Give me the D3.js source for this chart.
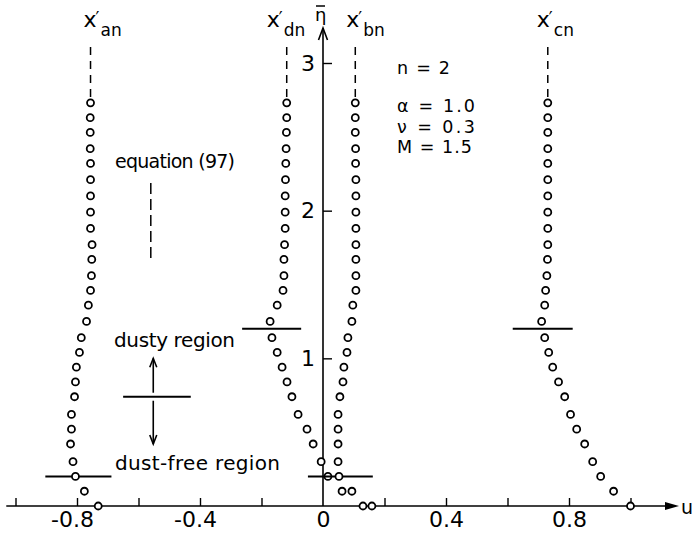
<!DOCTYPE html>
<html>
<head>
<meta charset="utf-8">
<script src="https://cdn.jsdelivr.net/npm/d3@7"></script>
<style>
  body { margin: 0; background: #fff; }
  svg { display: block; }
  text { font-family: "DejaVu Sans", sans-serif; fill: #000; }
</style>
</head>
<body>
<svg id="chart" width="694" height="535"></svg>
<script>
// Boundary-layer velocity profiles u(η̄) for the four components, n = 2.
const eta = [0, 0.10, 0.20, 0.30, 0.42, 0.52, 0.62, 0.74, 0.84, 0.94, 1.04, 1.14, 1.25, 1.36,
             1.46, 1.56, 1.67, 1.77, 1.88, 1.99, 2.10, 2.21, 2.32, 2.42, 2.53, 2.63, 2.73];
const uAn = [-0.731, -0.776, -0.805, -0.813, -0.821, -0.818, -0.818, -0.808, -0.805, -0.802,
             -0.792, -0.786, -0.769, -0.763, -0.756, -0.753, -0.752, -0.751, -0.756, -0.756,
             -0.756, -0.756, -0.756, -0.757, -0.757, -0.757, -0.756];
const uDn = [0.130, 0.062, 0.016, -0.006, -0.032, -0.052, -0.081, -0.101, -0.117, -0.133,
             -0.149, -0.166, -0.172, -0.149, -0.130, -0.127, -0.127, -0.125, -0.123, -0.123,
             -0.123, -0.122, -0.121, -0.120, -0.119, -0.118, -0.118];
const uBn = [0.159, 0.094, 0.052, 0.049, 0.049, 0.049, 0.049, 0.055, 0.065, 0.068,
             0.078, 0.081, 0.094, 0.097, 0.107, 0.107, 0.107, 0.107, 0.107, 0.107,
             0.107, 0.107, 0.106, 0.106, 0.105, 0.105, 0.105];
const uCn = [1.000, 0.945, 0.903, 0.877, 0.851, 0.825, 0.805, 0.786, 0.766, 0.747,
             0.734, 0.721, 0.711, 0.721, 0.724, 0.728, 0.730, 0.731, 0.731, 0.731,
             0.731, 0.731, 0.731, 0.731, 0.731, 0.731, 0.731];

// Series names (subscripts) and the η̄ / u-extent of each dust-boundary marker
const seriesSubs = ["an", "dn", "bn", "cn"];
const boundaryEta = [0.20, 1.20, 0.20, 1.20];
const boundaryU0 = [-0.903, -0.263, -0.049, 0.617];
const boundaryU1 = [-0.688, -0.071, 0.162, 0.812];

// Axis ticks
const xMinorTicks = [-1.0, -0.8, -0.6, -0.4, -0.2, 0.2, 0.4, 0.6, 0.8, 1.0];
const xLabelTicks = [-0.8, -0.4, 0, 0.4, 0.8];
const xTickLabels = ["-0.8", "-0.4", "0", "0.4", "0.8"];
const yTicks = [1, 2, 3];
const yTickLabels = ["1", "2", "3"];

// Parameter block
const params = ["n = 2", "α = 1.0", "ν = 0.3", "M = 1.5"];

const series = [uAn, uDn, uBn, uCn];

const svg = d3.select("#chart");
const x = d3.scaleLinear().domain([-0.8, 0.8]).range([77, 569]);
const y = d3.scaleLinear().domain([0, 3]).range([506, 63]);
const x0 = x(0), y0 = y(0);

// ---- axes ----
const gx = svg.append("g").attr("transform", `translate(0,${y0})`)
  .call(d3.axisBottom(x).tickValues(xMinorTicks).tickSize(-8).tickFormat(""));
gx.select(".domain").remove();
gx.selectAll("line").attr("stroke", "#000").attr("stroke-width", 1.4);

const gxl = svg.append("g").attr("transform", `translate(0,${y0})`)
  .call(d3.axisBottom(x).tickValues(xLabelTicks).tickSize(0).tickPadding(5)
    .tickFormat((d, i) => xTickLabels[i]));
gxl.select(".domain").remove();
gxl.attr("font-family", null).attr("font-size", null);
gxl.selectAll("text").attr("font-size", 22).attr("fill", "#000")
  .attr("dx", d => d < 0 ? -5 : 0);

const gy = svg.append("g").attr("transform", `translate(${x0},0)`)
  .call(d3.axisLeft(y).tickValues(yTicks).tickSize(-9).tickPadding(8)
    .tickFormat((d, i) => yTickLabels[i]));
gy.select(".domain").remove();
gy.attr("font-family", null).attr("font-size", null);
gy.selectAll("line").attr("stroke", "#000").attr("stroke-width", 1.4);
gy.selectAll("text").attr("font-size", 22).attr("fill", "#000");

// axis lines with arrows
svg.append("line").attr("x1", x(-1.03)).attr("x2", 668).attr("y1", y0).attr("y2", y0)
  .attr("stroke", "#000").attr("stroke-width", 1.6);
svg.append("path").attr("d", `M679,${y0} L665,${y0 - 4} L665,${y0 + 4} Z`).attr("fill", "#000");
svg.append("text").attr("x", 681).attr("y", y0 + 8).attr("font-size", 19).text("u");

svg.append("line").attr("x1", x0).attr("x2", x0).attr("y1", y0).attr("y2", 28)
  .attr("stroke", "#000").attr("stroke-width", 1.6);
svg.append("path").attr("d", `M${x0 - 4.5},40 L${x0},28 L${x0 + 4.5},40`)
  .attr("fill", "none").attr("stroke", "#000").attr("stroke-width", 1.6);
svg.append("text").attr("x", x0 - 8).attr("y", 21).attr("font-size", 18).text("η");
svg.append("line").attr("x1", x0 - 7).attr("x2", x0 + 2).attr("y1", 6).attr("y2", 6)
  .attr("stroke", "#000").attr("stroke-width", 1.5);

// ---- profiles ----
const labelShift = [-7, -20, -9, -11];
series.forEach((u, k) => {
  const g = svg.append("g");
  const topU = u[u.length - 1];
  // dashed continuation above the last computed point
  g.append("line").attr("x1", x(topU)).attr("x2", x(topU))
    .attr("y1", 47).attr("y2", 97)
    .attr("stroke", "#000").attr("stroke-width", 1.5).attr("stroke-dasharray", "8,6");
  // dust-boundary marker
  g.append("line").attr("x1", x(boundaryU0[k])).attr("x2", x(boundaryU1[k]))
    .attr("y1", y(boundaryEta[k])).attr("y2", y(boundaryEta[k]))
    .attr("stroke", "#000").attr("stroke-width", 2);
  g.selectAll("circle").data(eta).join("circle")
    .attr("cx", (d, i) => x(u[i]))
    .attr("cy", d => y(d))
    .attr("r", 3.5)
    .attr("fill", "#fff").attr("stroke", "#000").attr("stroke-width", 1.8);
  // label x′ with subscript
  const lx = x(topU) + labelShift[k];
  const t = g.append("text").attr("x", lx).attr("y", 27).attr("font-size", 22);
  t.append("tspan").text("x");
  t.append("tspan").attr("font-size", 17).attr("dy", -3).attr("dx", -1).text("′");
  t.append("tspan").attr("x", lx + 17).attr("y", 36).attr("font-size", 17).text(seriesSubs[k]);
});

// ---- annotations ----
svg.append("text").attr("x", 115).attr("y", 168).attr("font-size", 19)
  .attr("textLength", 120).attr("lengthAdjust", "spacing").text("equation (97)");
svg.append("line").attr("x1", x(-0.56)).attr("x2", x(-0.56)).attr("y1", 183).attr("y2", 258)
  .attr("stroke", "#000").attr("stroke-width", 1.5).attr("stroke-dasharray", "11,5");

svg.append("text").attr("x", 114).attr("y", 347).attr("font-size", 20)
  .attr("textLength", 121).attr("lengthAdjust", "spacing").text("dusty region");
svg.append("text").attr("x", 115).attr("y", 470).attr("font-size", 20)
  .attr("textLength", 165).attr("lengthAdjust", "spacing").text("dust-free region");

const ax = x(-0.552);
svg.append("line").attr("x1", x(-0.65)).attr("x2", x(-0.43)).attr("y1", y(0.74)).attr("y2", y(0.74))
  .attr("stroke", "#000").attr("stroke-width", 2);
svg.append("line").attr("x1", ax).attr("x2", ax).attr("y1", y(0.74) - 4).attr("y2", y(1.0))
  .attr("stroke", "#000").attr("stroke-width", 1.6);
svg.append("path").attr("d", `M${ax - 3.5},${y(1.0) + 9} L${ax},${y(1.0)} L${ax + 3.5},${y(1.0) + 9}`)
  .attr("fill", "none").attr("stroke", "#000").attr("stroke-width", 1.6);
svg.append("line").attr("x1", ax).attr("x2", ax).attr("y1", y(0.74) + 4).attr("y2", y(0.42))
  .attr("stroke", "#000").attr("stroke-width", 1.6);
svg.append("path").attr("d", `M${ax - 3.5},${y(0.42) - 9} L${ax},${y(0.42)} L${ax + 3.5},${y(0.42) - 9}`)
  .attr("fill", "none").attr("stroke", "#000").attr("stroke-width", 1.6);

// parameter block
const pY = [74, 112, 132.5, 153];
const pW = [53, 78, 78, 75];
params.forEach((p, i) => {
  svg.append("text").attr("x", 397).attr("y", pY[i]).attr("font-size", 17.5)
    .attr("textLength", pW[i]).attr("lengthAdjust", "spacing").text(p);
});
</script>
</body>
</html>
